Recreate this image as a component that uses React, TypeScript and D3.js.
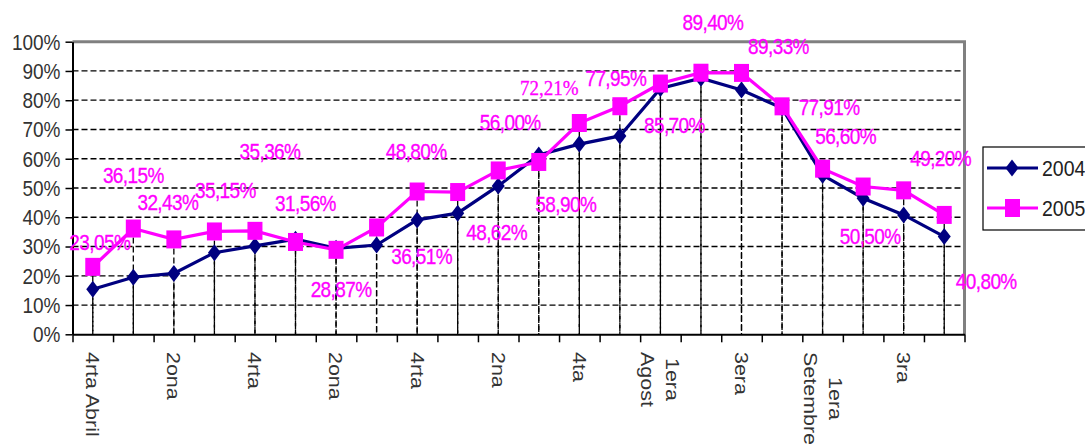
import React, { useEffect, useRef } from "react";
import * as d3 from "d3";

// weekly occupancy, April -> September
const categories = [
  "4rta Abril", "", "2ona", "", "4rta", "", "2ona", "", "4rta", "", "2na", "",
  "4ta", "", "1era|Agost", "", "3era", "", "1era|Setembre", "", "3ra", "",
];
const values2004 = [
  15.4, 19.5, 20.8, 27.9, 30.2, 32.5, 29.4, 30.5, 39.1, 41.4, 50.7, 61.3,
  65.0, 67.8, 84.0, 87.5, 83.5, 77.3, 54.4, 46.5, 40.8, 33.4,
];
const values2005 = [
  23.05, 36.15, 32.43, 35.15, 35.36, 31.56, 28.87, 36.51, 48.8, 48.62, 56.0, 58.9,
  72.21, 77.95, 85.7, 89.4, 89.33, 77.91, 56.6, 50.5, 49.2, 40.8,
];
const yTicks = [0, 10, 20, 30, 40, 50, 60, 70, 80, 90, 100];
const seriesNames = ["2004", "2005"];

// where Excel put each 2005 data label, relative to its point (px)
const labelOffsets = [
  [7, -24], [0, -53], [-6, -37], [11, -41], [15, -79], [10, -38], [5, 40], [45, 29],
  [-1, -40], [39, 41], [12, -48], [27, 43], [-30, -35], [-4, -28], [14, 42], [12, -50],
  [37, -26], [47, 1], [23, -32], [7, 50], [37, -32], [42, 67],
];

const W = 1085, H = 445;
const left = 72.5, right = 964.5, top = 41.7, bottom = 334.3;
const NAVY = "#000080", PINK = "#FF00FF";
const FONT = "'Liberation Sans', Arial, sans-serif";
const DASH = "6,3";
const STRETCH = 1.13; // the source image is a bit taller than wide

function App() {
  const ref = useRef<SVGSVGElement>(null);

  useEffect(() => {
    const svg = d3.select(ref.current);
    svg.selectAll("*").remove();

    const n = categories.length;
    const xb = d3.scaleLinear().domain([0, n]).range([left, right]);
    const x = (i: number) => xb(i + 0.5);
    const y = d3.scaleLinear().domain([0, 100]).range([bottom, top]);

    // horizontal grid
    svg.append("g").selectAll("line")
      .data(yTicks.filter(t => t > 0 && t < 100))
      .join("line")
      .attr("x1", left).attr("x2", right)
      .attr("y1", d => y(d)).attr("y2", d => y(d))
      .attr("stroke", "#000").attr("stroke-width", 1.3)
      .attr("stroke-dasharray", DASH);

    // drop lines for both series
    [values2004, values2005].forEach(vals => {
      svg.append("g").selectAll("line")
        .data(vals)
        .join("line")
        .attr("x1", (d, i) => x(i)).attr("x2", (d, i) => x(i))
        .attr("y1", d => y(d)).attr("y2", y(0))
        .attr("stroke", "#000").attr("stroke-width", 1.3)
        .attr("stroke-dasharray", DASH);
    });

    // gray frame top / right
    svg.append("line")
      .attr("x1", left).attr("x2", right + 1.5)
      .attr("y1", y(100)).attr("y2", y(100))
      .attr("stroke", "#808080").attr("stroke-width", 3);
    svg.append("line")
      .attr("x1", right).attr("x2", right)
      .attr("y1", y(100)).attr("y2", y(0))
      .attr("stroke", "#808080").attr("stroke-width", 3);

    // y axis
    const ya = svg.append("g")
      .attr("transform", `translate(${left},0)`)
      .call(d3.axisLeft(y).tickValues(yTicks).tickSize(7).tickSizeOuter(0).tickFormat(d => d + "%"));
    ya.select(".domain").attr("stroke", "#000").attr("stroke-width", 2);
    ya.selectAll(".tick line").attr("stroke", "#000").attr("stroke-width", 1.5);
    ya.selectAll(".tick text")
      .attr("x", null).attr("dy", null)
      .attr("dominant-baseline", "central")
      .attr("transform", `translate(-12,0) scale(1,${STRETCH})`)
      .style("font-family", FONT).style("font-size", "19px").attr("fill", "#333");

    // x axis: ticks on category boundaries
    const xa = svg.append("g")
      .attr("transform", `translate(0,${bottom})`)
      .call(d3.axisBottom(xb).tickValues(d3.range(n + 1)).tickSize(8).tickSizeOuter(0).tickFormat(() => ""));
    xa.select(".domain").attr("stroke", "#000").attr("stroke-width", 2);
    xa.selectAll(".tick line").attr("stroke", "#000").attr("stroke-width", 1.5);

    // rotated category labels (two-line ones centred on the longest line)
    const labelTop = 352;
    categories.forEach((c, i) => {
      if (!c) return;
      const lines = c.split("|");
      const g = svg.append("g");
      const texts = lines.map(ln =>
        g.append("text")
          .attr("dominant-baseline", "central")
          .style("font-family", FONT).style("font-size", "19px").attr("fill", "#333")
          .text(ln)
      );
      const lens = texts.map(t => (t.node() as SVGTextElement).getComputedTextLength() * STRETCH);
      const longest = d3.max(lens) || 0;
      texts.forEach((t, k) => {
        const cx = x(i) + ((lines.length - 1) / 2 - k) * 25;
        const start = labelTop + (longest - lens[k]) / 2;
        t.attr("transform", `translate(${cx},${start}) rotate(90) scale(${STRETCH},1)`);
      });
    });

    const line = d3.line<number>().x((d, i) => x(i)).y(d => y(d));

    const diamond = (cx: number, cy: number) =>
      `M${cx},${cy - 8.5}L${cx + 6.5},${cy}L${cx},${cy + 8.5}L${cx - 6.5},${cy}Z`;

    // 2004
    svg.append("path").datum(values2004)
      .attr("d", line).attr("fill", "none")
      .attr("stroke", NAVY).attr("stroke-width", 3.2);
    svg.append("g").selectAll("path")
      .data(values2004).join("path")
      .attr("d", (d, i) => diamond(x(i), y(d)))
      .attr("fill", NAVY);

    // 2005
    svg.append("path").datum(values2005)
      .attr("d", line).attr("fill", "none")
      .attr("stroke", PINK).attr("stroke-width", 3.2);
    svg.append("g").selectAll("rect")
      .data(values2005).join("rect")
      .attr("x", (d, i) => x(i) - 7.5).attr("y", d => y(d) - 9)
      .attr("width", 15).attr("height", 18)
      .attr("fill", PINK);

    // data labels
    svg.append("g").selectAll("text")
      .data(values2005).join("text")
      .attr("transform", (d, i) =>
        `translate(${x(i) + labelOffsets[i][0]},${y(d) + labelOffsets[i][1]}) scale(1,${STRETCH})`)
      .attr("text-anchor", "middle")
      .attr("dominant-baseline", "central")
      .style("font-family", (d, i) => i === 12 ? "'Liberation Serif', serif" : FONT)
      .style("font-size", "19px")
      .style("letter-spacing", (d, i) => i === 12 ? "0px" : "-0.6px")
      .attr("fill", PINK)
      .attr("stroke", PINK).attr("stroke-width", 0.3)
      .text(d => d.toFixed(2).replace(".", ",") + "%");

    // legend
    const lg = svg.append("g");
    lg.append("rect")
      .attr("x", 983).attr("y", 147).attr("width", 120).attr("height", 83)
      .attr("fill", "#fff").attr("stroke", "#000").attr("stroke-width", 1.2);
    seriesNames.forEach((s, k) => {
      const ly = 168 + k * 40;
      const col = k === 0 ? NAVY : PINK;
      lg.append("line").attr("x1", 987).attr("x2", 1038).attr("y1", ly).attr("y2", ly)
        .attr("stroke", col).attr("stroke-width", 3.2);
      if (k === 0) lg.append("path").attr("d", diamond(1012, ly)).attr("fill", col);
      else lg.append("rect").attr("x", 1005).attr("y", ly - 9).attr("width", 15).attr("height", 18).attr("fill", col);
      lg.append("text")
        .attr("transform", `translate(1042,${ly}) scale(1,${STRETCH})`)
        .attr("dominant-baseline", "central")
        .style("font-family", FONT).style("font-size", "19.5px").attr("fill", "#222")
        .text(s);
    });
  }, []);

  return (
    <svg ref={ref} width={W} height={H}
      style={{ position: "absolute", left: 0, top: 0, background: "#fff" }} />
  );
}

export default App;
